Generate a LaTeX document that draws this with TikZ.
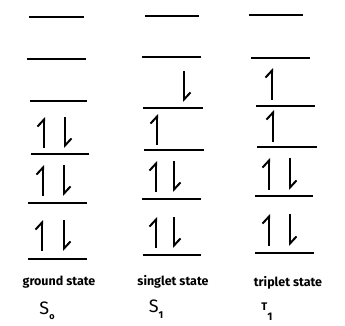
\documentclass[tikz,border=0pt]{standalone}
\usepackage{fontspec}
\setmainfont{Fira Sans}
\usetikzlibrary{arrows.meta}

\begin{document}
\begin{tikzpicture}[
    x=1pt, y=-1pt,
    lvl/.style={line width=2.4pt},
    spin/.style={line width=2pt, -{Straight Barb[left, length=7pt, width=13pt]}},
    lbl/.style={font=\fontsize{12.5}{13}\selectfont\bfseries},
    sym/.style={font=\fontsize{18}{18}\selectfont}
]
\useasboundingbox (0,0) rectangle (345,325);

% ---- Ground state S0 ----
\draw[lvl] (29,17)  -- (84,17);
\draw[lvl] (27,59)  -- (86,59);
\draw[lvl] (30,101) -- (87,101);
\draw[lvl] (31,154) -- (89,154);
\draw[lvl] (28,203) -- (87,203);
\draw[lvl] (28,259) -- (87,259);
\draw[spin] (44,148) -- (44,117);  \draw[spin] (65,117) -- (65,148);
\draw[spin] (43,196) -- (43,165);  \draw[spin] (64,165) -- (64,196);
\draw[spin] (42,251) -- (42,220);  \draw[spin] (64,220) -- (64,251);

% ---- Singlet state S1 ----
\draw[lvl] (145,16)  -- (199,16);
\draw[lvl] (142,57)  -- (201,57);
\draw[lvl] (143,108) -- (203,108);
\draw[lvl] (144,150) -- (204,150);
\draw[lvl] (142,199) -- (201,199);
\draw[lvl] (143,255) -- (201,255);
\draw[spin] (184,71) -- (184,102);
\draw[spin] (157,145) -- (157,114);
\draw[spin] (156,192) -- (156,161);  \draw[spin] (174,161) -- (174,192);
\draw[spin] (156,248) -- (156,217);  \draw[spin] (174,217) -- (174,248);

% ---- Triplet state T1 ----
\draw[lvl] (249,15)  -- (303,15);
\draw[lvl] (251,58)  -- (310,58);
\draw[lvl] (256,106) -- (315,106);
\draw[lvl] (257,147) -- (317,147);
\draw[lvl] (255,196) -- (313,196);
\draw[lvl] (255,253) -- (314,253);
\draw[spin] (272,100) -- (272,68);
\draw[spin] (273,142) -- (273,110);
\draw[spin] (269,190) -- (269,158);  \draw[spin] (290,158) -- (290,190);
\draw[spin] (269,246) -- (269,214);  \draw[spin] (290,214) -- (290,246);

% ---- Labels ----
\node[lbl] (lgs) at (59,282) {ground state};
\node[lbl] (lss) at (173,282) {singlet state};
\node[lbl] (lts) at (288,283) {triplet state};
\node[sym] (s0) at (47,311) {S\raisebox{-5pt}{\fontsize{9}{9}\selectfont\bfseries o}};
\node[sym] (s1) at (156,309) {S\raisebox{-6pt}{\fontsize{10}{10}\selectfont\bfseries 1}};
\node[font=\fontsize{11}{11}\selectfont\bfseries] (t1) at (267,312) {T\raisebox{-10pt}{1}};

\end{tikzpicture}
\end{document}
